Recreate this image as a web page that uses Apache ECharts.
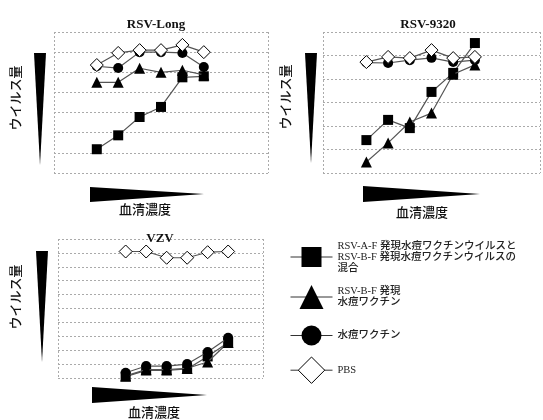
<!DOCTYPE html>
<html>
<head>
<meta charset="utf-8" />
<title>ウイルス量</title>
<script src="https://cdn.jsdelivr.net/npm/echarts@6/dist/echarts.min.js"></script>
<style>
body { margin:0; background:#fff; }
#echart { width:543px; height:420px; }
</style>
</head>
<body>
<div id="echart"></div>
<script type="text/javascript">
// 希釈段階 (血清濃度 高→低)
var steps = [1, 2, 3, 4, 5, 6];
var names = [
  'RSV-A-F 発現水痘ワクチンウイルスと\nRSV-B-F 発現水痘ワクチンウイルスの\n混合',
  'RSV-B-F 発現\n水痘ワクチン',
  '水痘ワクチン',
  'PBS'
];
// RSV-Long
var longMix = [1.18, 1.87, 2.78, 3.28, 4.75, 4.8];
var longB   = [4.5, 4.5, 5.2, 5.0, 5.1, 4.87];
var longVac = [5.3, 5.21, 6.0, 6.0, 5.96, 5.26];
var longPbs = [5.36, 5.96, 6.1, 6.1, 6.36, 6.0];
// RSV-9320
var r9320Mix = [1.4, 2.26, 1.91, 3.45, 4.26, 5.53];
var r9320B   = [0.47, 1.28, 2.17, 2.55, 4.2, 4.6];
var r9320Vac = [4.7, 4.68, 4.8, 4.9, 4.72, 4.8];
var r9320Pbs = [4.72, 4.94, 4.89, 5.23, 4.89, 4.94];
// VZV
var vzvMix = [0.1, 0.55, 0.55, 0.65, 1.55, 2.55];
var vzvB   = [0.15, 0.6, 0.6, 0.7, 1.15, 2.55];
var vzvVac = [0.38, 0.86, 0.86, 1.0, 1.87, 2.9];
var vzvPbs = [9.1, 9.1, 8.65, 8.65, 9.05, 9.1];

var symbols = ['rect', 'triangle', 'circle', 'diamond'];
var sizes = [10, 11, 10, 13];
var fills = ['#000', '#000', '#000', '#fff'];
var legendH = [25, 30, 25, 33];
var legendTop = [240.5, 285, 325.5, 356.5];

function pts(arr) {
  var out = [];
  for (var i = 0; i < arr.length; i++) out.push([steps[i], arr[i]]);
  return out;
}

var panels = [
  [longMix, longB, longVac, longPbs],
  [r9320Mix, r9320B, r9320Vac, r9320Pbs],
  [vzvMix, vzvB, vzvVac, vzvPbs]
];

var dotted = { color: '#aaa', type: [2, 2], width: 1 };
var grids = [
  { left: 54, top: 32, width: 214, height: 141 },
  { left: 323, top: 32, width: 217, height: 141 },
  { left: 58, top: 239, width: 205, height: 139 }
];
var xRange = [[-1, 9], [-1, 9], [-2.3, 7.7]];
var yMax = [7, 6, 10];

var xAxis = [], yAxis = [], series = [];
for (var p = 0; p < 3; p++) {
  xAxis.push({
    type: 'value', gridIndex: p, min: xRange[p][0], max: xRange[p][1], interval: 10,
    axisLine: { show: false }, axisTick: { show: false }, axisLabel: { show: false },
    splitLine: { show: true, lineStyle: dotted }
  });
  yAxis.push({
    type: 'value', gridIndex: p, min: 0, max: yMax[p], interval: 1,
    axisLine: { show: false }, axisTick: { show: false }, axisLabel: { show: false },
    splitLine: { show: true, lineStyle: dotted }
  });
  for (var s = 0; s < 4; s++) {
    series.push({
      name: names[s],
      type: 'line',
      xAxisIndex: p, yAxisIndex: p,
      data: pts(panels[p][s]),
      symbol: symbols[s],
      symbolSize: sizes[s],
      showAllSymbol: true,
      z: 2 + s,
      lineStyle: { color: '#555', width: 1.2 },
      itemStyle: { color: fills[s], borderColor: '#000', borderWidth: s == 3 ? 1 : 0, opacity: 1 },
      animation: false
    });
  }
}

var legends = [];
for (var k = 0; k < 4; k++) {
  legends.push({
    data: [names[k]],
    left: 290, top: legendTop[k],
    padding: 0,
    itemWidth: 42, itemHeight: legendH[k],
    itemGap: 4,
    selectedMode: false,
    lineStyle: { color: '#333', width: 1 },
    itemStyle: { borderColor: '#000', borderWidth: k == 3 ? 1 : 0 },
    textStyle: { fontSize: 10.5, lineHeight: 11, color: '#222', fontWeight: 500,
      fontFamily: '"Liberation Serif", "Noto Sans CJK JP"' }
  });
}

var titleStyle = { fontSize: 13, fontWeight: 'bold', color: '#111', fontFamily: '"Liberation Serif", serif' };
var labelStyle = { fontSize: 13, fill: '#111', fontFamily: '"Noto Sans CJK JP"', fontWeight: 500 };

function vlabel(x, y) {
  return { type: 'text', x: x, y: y, rotation: Math.PI / 2,
    style: Object.assign({ text: 'ウイルス量', align: 'center', verticalAlign: 'middle' }, labelStyle) };
}
function hlabel(x, y) {
  return { type: 'text', x: x, y: y,
    style: Object.assign({ text: '血清濃度', align: 'center', verticalAlign: 'middle' }, labelStyle) };
}
function wedge(points) {
  return { type: 'polygon', shape: { points: points }, style: { fill: '#000' } };
}

var myChart = echarts.init(document.getElementById('echart'), null, { renderer: 'canvas' });
var option = {
  animation: false,
  title: [
    { text: 'RSV-Long', left: 151, top: 13, textAlign: 'center', textStyle: titleStyle },
    { text: 'RSV-9320', left: 423, top: 13, textAlign: 'center', textStyle: titleStyle },
    { text: 'VZV', left: 155, top: 227, textAlign: 'center', textStyle: titleStyle }
  ],
  grid: grids,
  xAxis: xAxis,
  yAxis: yAxis,
  legend: legends,
  series: series,
  graphic: [
    wedge([[34, 53], [46, 53], [40, 165]]),
    wedge([[305, 53], [317, 53], [311, 163]]),
    wedge([[36, 251], [48, 251], [42, 362]]),
    wedge([[90, 187], [90, 202], [204, 194]]),
    wedge([[363, 186], [363, 202], [480, 194]]),
    wedge([[92, 387], [92, 403], [207, 395]]),
    vlabel(15, 98),
    vlabel(285, 97),
    vlabel(15, 297),
    hlabel(145, 209),
    hlabel(422, 212),
    hlabel(154, 412)
  ]
};
option && myChart.setOption(option);
</script>
</body>
</html>
